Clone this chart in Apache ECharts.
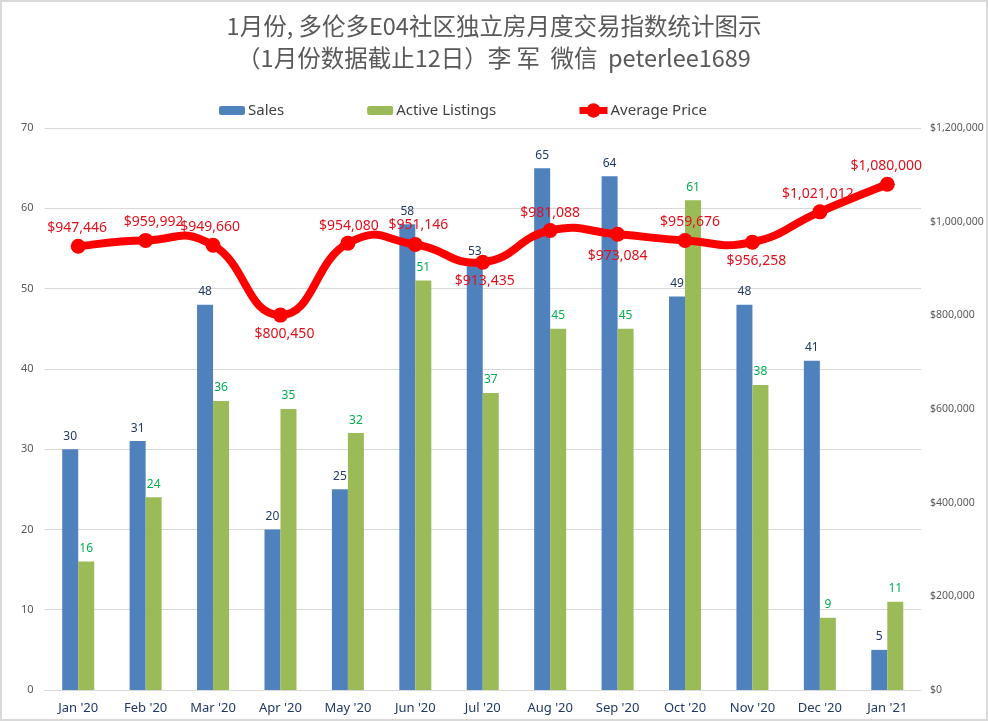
<!DOCTYPE html>
<html><head><meta charset="utf-8">
<style>html,body{margin:0;padding:0;background:#fff}#c{width:988px;height:721px}</style>
<script src="https://cdn.jsdelivr.net/npm/echarts@6/dist/echarts.min.js"></script>
</head><body><div id="c"></div>
<script>
var categories = ["Jan '20","Feb '20","Mar '20","Apr '20","May '20","Jun '20","Jul '20","Aug '20","Sep '20","Oct '20","Nov '20","Dec '20","Jan '21"];
var sales = [30,31,48,20,25,58,53,65,64,49,48,41,5];
var listings = [16,24,36,35,32,51,37,45,45,61,38,9,11];
var prices = [947446,959992,949660,800450,954080,951146,913435,981088,973084,959676,956258,1021012,1080000];
var priceLabelOffsets = [[-1,-18],[8,-18],[-3,-18],[4,19],[1,-17],[3,-20],[2,19],[0,-18],[0,22],[5,-19],[4,19],[-2,-18],[-1,-18]];
var titleText = "1月份, 多伦多E04社区独立房月度交易指数统计图示\n（1月份数据截止12日）李 军  微信  peterlee1689";
var font = '"Noto Sans","Noto Sans CJK SC",sans-serif';
var tension = 0.25;
function money(v){return '$'+String(v).replace(/\B(?=(\d{3})+$)/g,',');}
function renderSpline(params, api){
  if (params.dataIndex !== 0) return null;
  var p = prices.map(function(v,i){return api.coord([i,v]);});
  var d = 'M'+p[0][0]+' '+p[0][1];
  for (var i=0;i<p.length-1;i++){
    var a=p[Math.max(i-1,0)], b=p[i], c=p[i+1], e=p[Math.min(i+2,p.length-1)];
    d += ' C'+(b[0]+(c[0]-a[0])*tension)+' '+(b[1]+(c[1]-a[1])*tension)+' '+
         (c[0]-(e[0]-b[0])*tension)+' '+(c[1]-(e[1]-b[1])*tension)+' '+c[0]+' '+c[1];
  }
  return {type:'path',shape:{pathData:d},style:{fill:'none',stroke:'#ff0000',lineWidth:8,lineCap:'round',lineJoin:'round'}};
}
var chart = echarts.init(document.getElementById('c'),null,{renderer:'canvas'});
chart.setOption({
  animation:false,
  backgroundColor:'#fff',
  graphic:[{type:'rect',silent:true,z:-1,shape:{x:1,y:1,width:986,height:719},style:{fill:'none',stroke:'#d9d9d9',lineWidth:2}}],
  title:{text:titleText,left:'center',top:5,textStyle:{color:'#595959',fontFamily:'"Noto Sans CJK SC","Noto Sans",sans-serif',fontWeight:'normal',fontSize:23.5,lineHeight:32}},
  legend:[
    {left:219,top:103,padding:0,itemWidth:26,itemHeight:9,itemGap:83,textStyle:{fontFamily:font,fontSize:15,color:'#404040',padding:[0,0,0,-2]},
      data:[{name:'Sales'},{name:'Active Listings'}]},
    {left:576,top:103,padding:0,itemWidth:28,itemHeight:18,textStyle:{fontFamily:font,fontSize:15,color:'#404040',padding:[0,0,0,-2]},
      data:[{name:'Average Price',lineStyle:{color:'#ff0000',width:7,opacity:1}}]}
  ],
  grid:{left:44.5,right:67,top:128,bottom:31,containLabel:false,outerBoundsMode:'none'},
  xAxis:{type:'category',data:categories,axisTick:{show:false},axisLine:{lineStyle:{color:'#d9d9d9'}},
    axisLabel:{color:'#1f3864',fontFamily:font,fontSize:13,margin:12,interval:0}},
  yAxis:[
    {type:'value',min:0,max:70,interval:10,axisLine:{show:false},axisTick:{show:false},splitLine:{lineStyle:{color:'#d9d9d9'}},
      axisLabel:{color:'#595959',fontFamily:font,fontSize:11,margin:11}},
    {type:'value',min:0,max:1200000,interval:200000,position:'right',axisLine:{show:false},axisTick:{show:false},splitLine:{show:false},
      axisLabel:{color:'#595959',fontFamily:font,fontSize:10.5,margin:9,formatter:money}}
  ],
  series:[
    {name:'Sales',type:'bar',data:sales,barWidth:16,barGap:0,itemStyle:{color:'#4f81bd'},
      label:{show:true,position:'top',distance:7,color:'#1f3864',fontFamily:font,fontSize:12}},
    {name:'Active Listings',type:'bar',data:listings,barWidth:16,barGap:0,itemStyle:{color:'#9bbb59'},
      label:{show:true,position:'top',distance:7,color:'#00b050',fontFamily:font,fontSize:12}},
    {name:'Average Price',type:'line',yAxisIndex:1,symbol:'circle',symbolSize:15,z:6,
      lineStyle:{color:'#ff0000',width:7,opacity:0},itemStyle:{color:'#ff0000'},
      data:prices.map(function(v,i){return {value:v,label:{show:true,position:'inside',offset:priceLabelOffsets[i],formatter:money(v),color:'#e3101c',fontFamily:font,fontSize:14}};})},
    {name:'Average Price',type:'custom',yAxisIndex:1,z:5,silent:true,clip:false,renderItem:renderSpline,
      encode:{x:0,y:1},data:prices.map(function(v,i){return [i,v];})}
  ]
});
</script></body></html>
